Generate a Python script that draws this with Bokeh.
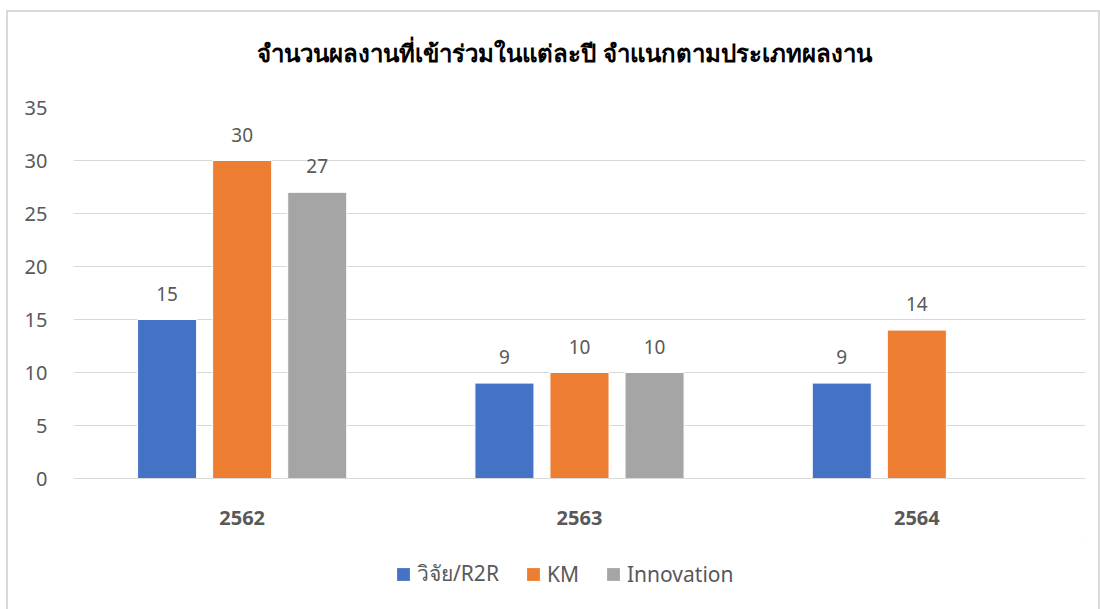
from bokeh.plotting import figure
from bokeh.layouts import column
from bokeh.models import ColumnDataSource, FactorRange, Legend, LegendItem, Range1d, SingleIntervalTicker
from bokeh.transform import dodge
from bokeh.core.properties import value
from bokeh.embed import file_html
from bokeh.resources import INLINE

years = ["2562", "2563", "2564"]
series_names = ["วิจัย/R2R", "KM", "Innovation"]
research = [15, 9, 9]
km = [30, 10, 14]
innovation = [27, 10, None]
colors = ["#4472C4", "#ED7D31", "#A5A5A5"]
title_text = "จำนวนผลงานที่เข้าร่วมในแต่ละปี จำแนกตามประเภทผลงาน"

FONT = "Noto Sans"
W = 1090

# title strip
t = figure(width=W, height=80, x_range=Range1d(0, W), y_range=Range1d(0, 80),
           output_backend="svg", toolbar_location=None,
           min_border_left=0, min_border_right=0, min_border_top=0, min_border_bottom=0)
t.outline_line_color = None
t.axis.visible = False
t.grid.visible = False
t.text(x=[198], y=[40], text=[title_text], text_align="left", text_baseline="middle",
       text_font=value(FONT), text_font_size="24px", text_font_style="bold", text_color="#000000")

p = figure(width=W, height=448, x_range=FactorRange(factors=years, range_padding=0),
           y_range=Range1d(0, 35), output_backend="svg", toolbar_location=None,
           min_border_left=65, min_border_right=13, min_border_top=15, min_border_bottom=62)
p.outline_line_color = None
p.background_fill_color = "white"

offsets = [-0.2225, 0.0, 0.2225]
for name, vals, col, off in zip(series_names, [research, km, innovation], colors, offsets):
    xs = [y for y, v in zip(years, vals) if v is not None]
    ys = [v for v in vals if v is not None]
    src = ColumnDataSource(dict(x=xs, top=ys, lab=[str(v) for v in ys]))
    p.vbar(x=dodge("x", off, range=p.x_range), top="top", width=0.175, source=src,
           fill_color=col, line_color="white", line_width=1)
    p.text(x=dodge("x", off, range=p.x_range), y="top", text="lab", source=src,
           text_align="center", text_baseline="bottom", y_offset=-19,
           text_font=value(FONT), text_font_size="19px", text_color="#595959")

p.yaxis.ticker = SingleIntervalTicker(interval=5)
p.yaxis.axis_line_color = None
p.yaxis.major_tick_line_color = None
p.yaxis.minor_tick_line_color = None
p.yaxis.major_label_text_font = FONT
p.yaxis.major_label_text_font_size = "20px"
p.yaxis.major_label_text_color = "#595959"
p.yaxis.major_label_standoff = 20

p.xaxis.axis_line_color = "#d9d9d9"
p.xaxis.major_tick_line_color = None
p.xaxis.major_label_text_font = FONT
p.xaxis.major_label_text_font_size = "20px"
p.xaxis.major_label_text_font_style = "bold"
p.xaxis.major_label_text_color = "#595959"
p.xaxis.major_label_standoff = 26

p.xgrid.grid_line_color = None
p.ygrid.grid_line_color = "#d9d9d9"
p.ygrid.grid_line_width = 1

# legend strip
q = figure(width=W, height=69, x_range=Range1d(0, 1), y_range=Range1d(0, 1),
           output_backend="svg", toolbar_location=None,
           min_border_left=0, min_border_right=0, min_border_top=0, min_border_bottom=0)
q.outline_line_color = None
q.axis.visible = False
q.grid.visible = False
items = []
for name, col in zip(series_names, colors):
    r = q.vbar(x=[5], top=[5], bottom=[4], width=0.1, fill_color=col, line_color=None)
    items.append(LegendItem(label=name, renderers=[r]))
legend = Legend(items=items, orientation="horizontal", location=(322, 19), border_line_color=None,
                label_text_font=FONT, label_text_font_size="21px", label_text_color="#595959",
                glyph_width=16, glyph_height=16, label_standoff=6, spacing=26,
                padding=0, margin=0, background_fill_alpha=0)
q.add_layout(legend, "center")

layout = column(t, p, q, spacing=0, margin=(12, 0, 0, 8),
                styles={"outline": "2px solid #d9d9d9"})
open("out.html", "w").write(file_html(layout, INLINE))
